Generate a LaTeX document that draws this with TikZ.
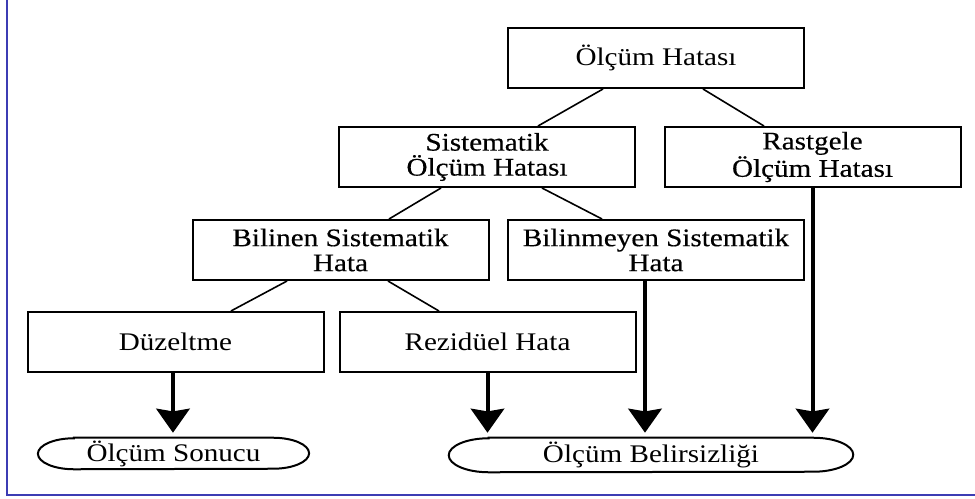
\documentclass[tikz,border=0pt]{standalone}
\usepackage{fontspec}
\setmainfont{Liberation Serif}
\newfontfamily\boxfont[FakeStretch=1.15,FakeBold=0.4]{Liberation Serif}
\newfontfamily\termfont[FakeStretch=1.15]{Liberation Serif}
\usetikzlibrary{arrows.meta,calc}
\definecolor{frameblue}{RGB}{60,60,180}

\begin{document}
\begin{tikzpicture}[x=0.75pt,y=-0.75pt,
  box/.style={draw, line width=1.5pt, minimum width=222pt, minimum height=45pt,
    inner sep=0pt, align=center, font=\boxfont\fontsize{19}{18.75}\selectfont},
  lowbox/.style={box, font=\termfont\fontsize{19}{18.75}\selectfont},
  term/.style={inner sep=0pt, font=\termfont\fontsize{19}{18.75}\selectfont},
  outline/.style={draw, line width=1.5pt},
  link/.style={line width=1.2pt},
  flow/.style={line width=3pt, -{Stealth[length=18pt,width=25pt,inset=2pt]}, shorten >=3.75pt}
]
\useasboundingbox (0,0) rectangle (975,499);

% page frame
\draw[frameblue, line width=1.8pt] (7,0) -- (7,495) -- (975,495);

% boxes
\node[lowbox] (top)  at (656,58)    {Ölçüm Hatası};
\node[box] (sist) at (487,157)   {Sistematik\\Ölçüm Hatası};
\node[box] (rast) at (812.5,157) {Rastgele\\Ölçüm Hatası};
\node[box] (bil)  at (340.5,250) {Bilinen Sistematik\\Hata};
\node[box] (bilm) at (656,250)   {Bilinmeyen Sistematik\\Hata};
\node[lowbox] (duz)  at (175.5,342) {Düzeltme};
\node[lowbox] (rez)  at (487.5,342) {Rezidüel Hata};

% terminals
\node[term, minimum width=203pt, minimum height=23.25pt] (son) at (173.5,453.5) {Ölçüm Sonucu};
\node[term, minimum width=303pt, minimum height=25.5pt] (bel) at (651,455) {Ölçüm Belirsizliği};

\draw[outline] ([xshift=27pt]son.north west) -- ([xshift=-27pt]son.north east)
  arc[start angle=90, end angle=-90, x radius=27pt, y radius=11.625pt]
  -- ([xshift=27pt]son.south west)
  arc[start angle=270, end angle=90, x radius=27pt, y radius=11.625pt] -- cycle;
\draw[outline] ([xshift=30pt]bel.north west) -- ([xshift=-30pt]bel.north east)
  arc[start angle=90, end angle=-90, x radius=30pt, y radius=12.75pt]
  -- ([xshift=30pt]bel.south west)
  arc[start angle=270, end angle=90, x radius=30pt, y radius=12.75pt] -- cycle;

% tree links
\draw[link] ([xshift=-39.75pt]top.south) -- ([xshift=38.25pt]sist.north);
\draw[link] ([xshift=35.25pt]top.south)  -- ([xshift=-36.4pt]rast.north);
\draw[link] ([xshift=-34.5pt]sist.south) -- ([xshift=36.4pt]bil.north);
\draw[link] ([xshift=41.25pt]sist.south) -- ([xshift=-40.5pt]bilm.north);
\draw[link] ([xshift=-40.1pt]bil.south)  -- ([xshift=41.6pt]duz.north);
\draw[link] ([xshift=35.6pt]bil.south)   -- ([xshift=-36.4pt]rez.north);

% flows into the results
\draw[flow] ([xshift=-1.9pt]duz.south) -- ([xshift=-1.9pt]duz.south |- son.north);
\draw[flow] (rez.south) -- (rez.south |- bel.north);
\draw[flow] ([xshift=-8.25pt]bilm.south) -- ([xshift=-8.25pt]bilm.south |- bel.north);
\draw[flow] (rast.south) -- (rast.south |- bel.north);
\end{tikzpicture}
\end{document}
